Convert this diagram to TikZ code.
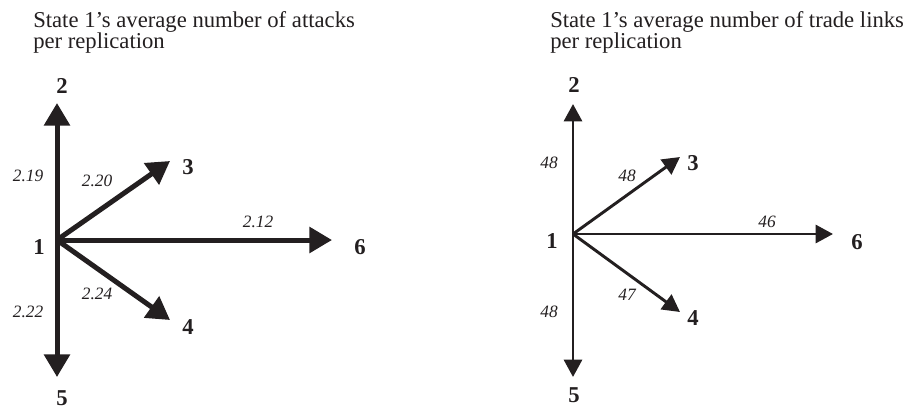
\documentclass[tikz,border=0pt]{standalone}
\usepackage{fontspec}
\setmainfont{Liberation Serif}
\usetikzlibrary{arrows.meta}
\definecolor{ink}{HTML}{231F20}
\newcommand{\mytitlefont}{\fontsize{17}{15.75}\selectfont\lineskiplimit=-20pt\lineskip=0pt\relax}
\begin{document}
\begin{tikzpicture}[x=0.75pt,y=-0.75pt,
  title/.style={anchor=base west,align=left,inner sep=0pt,font=\mytitlefont,text=ink},
  num/.style={inner sep=0pt,font=\fontsize{17}{18}\selectfont\bfseries,text=ink},
  val/.style={inner sep=0pt,font=\fontsize{13}{14}\selectfont\itshape,text=ink},
  heavy/.style={draw=ink,line width=3.75pt,-{Triangle[length=17pt,width=19pt]}},
  light/.style={draw=ink,line width=2.2pt,-{Triangle[length=13pt,width=13.5pt]}}]
\useasboundingbox (0,0) rectangle (909,415);
% ---------- left ----------
\node[title] (t1) at (33,48) {State 1’s average number of attacks\\per replication};
\coordinate (a1) at (57,240);
\coordinate (a2) at (57,103);
\coordinate (a3) at (170,161);
\coordinate (a6) at (332,240);
\coordinate (a4) at (170,320);
\coordinate (a5) at (57,377);
\draw[heavy] (a1) -- (a2);
\draw[heavy] (a1) -- (a3);
\draw[heavy] (a1) -- (a6);
\draw[heavy] (a1) -- (a4);
\draw[heavy] (a1) -- (a5);
\node[num] (n1) at (39,247) {1};
\node[num] (n2) at (62,86) {2};
\node[num] (n3) at (188,167) {3};
\node[num] (n4) at (188,327) {4};
\node[num] (n5) at (62,398) {5};
\node[num] (n6) at (360,247) {6};
\node[val] (v2) at (28,176) {2.19};
\node[val] (v3) at (97,181) {2.20};
\node[val] (v6) at (258,222) {2.12};
\node[val] (v4) at (97,294) {2.24};
\node[val] (v5) at (28,312) {2.22};
% ---------- right ----------
\node[title] (t2) at (550,48) {State 1’s average number of trade links\\per replication};
\coordinate (b1) at (573,234);
\coordinate (b2) at (573,104);
\coordinate (b3) at (680,157);
\coordinate (b6) at (833,234);
\coordinate (b4) at (680,312);
\coordinate (b5) at (573,377);
\draw[light] (b1) -- (b2);
\draw[light] (b1) -- (b3);
\draw[light] (b1) -- (b6);
\draw[light] (b1) -- (b4);
\draw[light] (b1) -- (b5);
\node[num] (m1) at (552,241) {1};
\node[num] (m2) at (574,85) {2};
\node[num] (m3) at (693,163) {3};
\node[num] (m4) at (693,318) {4};
\node[num] (m5) at (574,395) {5};
\node[num] (m6) at (857,242) {6};
\node[val] (w2) at (549,163) {48};
\node[val] (w3) at (627,176) {48};
\node[val] (w6) at (767,222) {46};
\node[val] (w4) at (627,295) {47};
\node[val] (w5) at (549,312) {48};
\end{tikzpicture}
\end{document}
